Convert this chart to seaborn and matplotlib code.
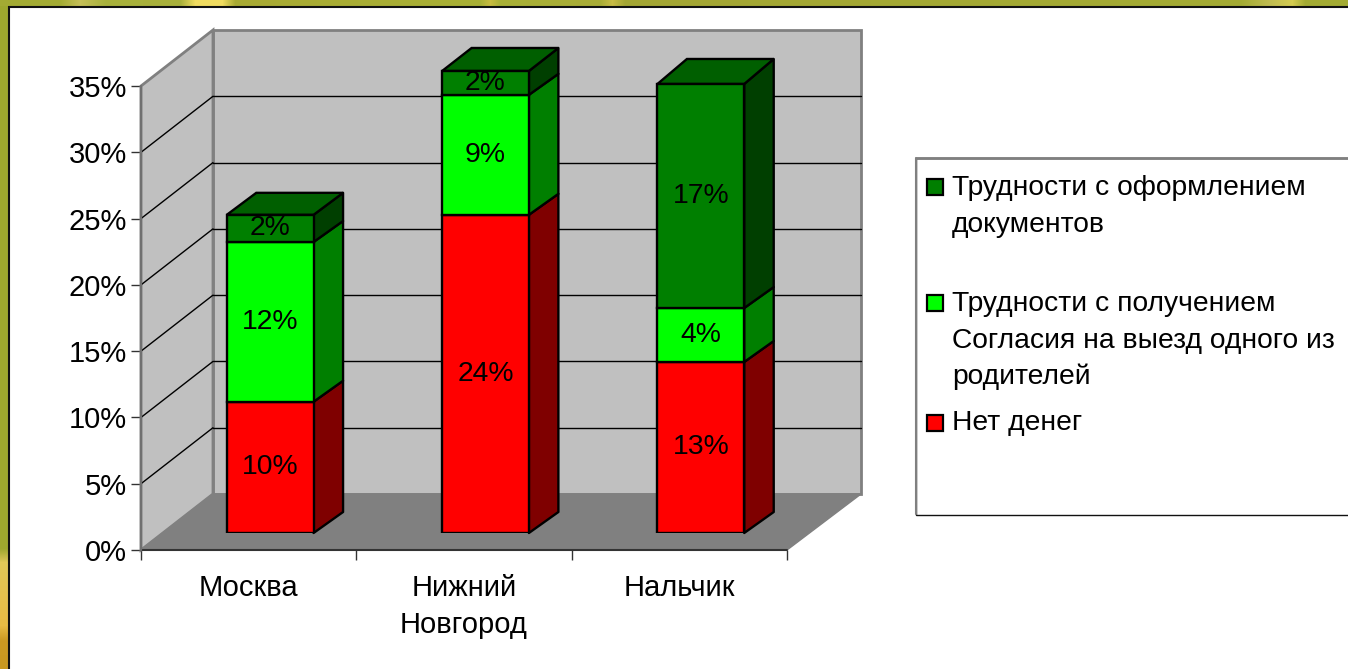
import numpy as np
import pandas as pd
import seaborn as sns
import matplotlib
matplotlib.use("Agg")
import matplotlib.pyplot as plt
from matplotlib.colors import to_rgb
from matplotlib.patches import Polygon, Rectangle
from matplotlib.transforms import Affine2D

# ---- data -------------------------------------------------------------
cities = ["Москва", "Нижний\nНовгород", "Нальчик"]
no_money = [9.9, 24.0, 12.9]
consent = [12.05, 9.05, 4.07]
documents = [2.05, 1.8, 16.9]
series_labels = ["Нет денег",
                 "Трудности с получением\nСогласия на выезд одного из\nродителей",
                 "Трудности с оформлением\nдокументов"]
y_ticks = [0, 5, 10, 15, 20, 25, 30, 35]

# ---- style --------------------------------------------------------------
sns.set_theme(style="white")
plt.rcParams["font.family"] = ["Liberation Sans", "DejaVu Sans"]
W, H = 1348, 669
FS = 21
FS_LABEL = 20.4
FS_LEG = 20.3
front = ["#ff0000", "#00ff00", "#007f00"]
side = ["#7f0000", "#007f00", "#003f00"]
top = ["#7f0000", "#007f00", "#005f00"]


def box(left, top_px, right, bottom_px):
    return [left / W, 1 - bottom_px / H, (right - left) / W, (bottom_px - top_px) / H]


fig = plt.figure(figsize=(W / 100, H / 100), dpi=100)

# ---- slide background: gradient frame with a white panel ----------------
bg = fig.add_axes([0, 0, 1, 1], zorder=0)
ys = np.arange(H)
stops_y = [0, 548, 562, 600, 625, 640, 669]
stops_c = np.array([to_rgb(c) for c in
                    ["#9ea82e", "#9ea82e", "#e0c858", "#e6c04c", "#e8bc44", "#cc9a22", "#c89820"]])
img = np.zeros((H, W, 3))
for i in range(3):
    img[:, :, i] = np.interp(ys, stops_y, stops_c[:, i])[:, None]
xs = np.arange(W)
stops_x = [0, 60, 80, 105, 180, 195, 222, 235, 480, 490, 500, 600, 612, 625, 1240, 1270, 1292, 1305, 1348]
stops_t = np.array([to_rgb(c) for c in
                    ["#a3ab33", "#a3ab33", "#c6c058", "#a8b23c", "#a8b03a", "#f0dc60", "#f0dc60",
                     "#a8aa33", "#a8b035", "#c8bc40", "#a8b035", "#a8ac35", "#c8bc45", "#a3a633",
                     "#a3ab33", "#c0bc50", "#d4cc50", "#a3ab33", "#a3ab33"]])
for i in range(3):
    img[:6, :, i] = np.interp(xs, stops_x, stops_t[:, i])[None, :]
bg.imshow(img, aspect="auto", interpolation="nearest", extent=(0, W, H, 0))
bg.set_xlim(0, W)
bg.set_ylim(H, 0)
bg.axis("off")
bg.add_patch(Rectangle((8.5, 6.5), W, H, fc="white", ec="#111111", lw=1.5))

# ---- 3-D frame axes: front plane of the plot box -----------------------
ax = fig.add_axes(box(141, 86, 787, 550), zorder=1)
ax.set_xlim(0, 3)
ax.set_ylim(0, 35)
ax.patch.set_visible(False)
for s in ax.spines.values():
    s.set_visible(False)
wall = ax.transData + Affine2D().translate(72, 56)
WALL_R = 3.01
ax.add_patch(Polygon([(0, 0), (WALL_R, 0), (WALL_R, 35), (0, 35)], transform=wall,
                     fc="#c0c0c0", ec="#808080", lw=2, clip_on=False, zorder=1))
x0, y0 = ax.transData.transform((0, 0))
x1, y1 = ax.transData.transform((0, 35))
ax.add_patch(Polygon([(x0, y0), (x1, y1), (x1 + 72, y1 + 56), (x0 + 72, y0 + 56)],
                     transform=None, fc="#c0c0c0", ec="#808080", lw=2, clip_on=False, zorder=1))
xr, _ = ax.transData.transform((3, 0))
ax.add_patch(Polygon([(x0, y0), (xr, y0), (xr + 74, y0 + 56), (x0 + 72, y0 + 56)],
                     transform=None, fc="#808080", ec="#808080", lw=1, clip_on=False, zorder=1.5))
for t in y_ticks[1:-1]:
    ax.plot([0, WALL_R], [t, t], transform=wall, color="black", lw=1, clip_on=False, zorder=2)
    xa, ya = ax.transData.transform((0, t))
    ax.plot([xa, xa + 72], [ya, ya + 56], transform=None, color="black", lw=1, clip_on=False, zorder=2)
ax.plot([0, 3], [0, 0], color="#333333", lw=1.5, clip_on=False, zorder=3)
ax.plot([0, 0], [0, 35], color="#707070", lw=1.6, clip_on=False, zorder=3)

ax.set_yticks(y_ticks, [f"{t}%" for t in y_ticks])
ax.set_xticks([0, 1, 2, 3], [])
ax.set_xticks([0.5, 1.5, 2.5], cities, minor=True)
ax.tick_params(axis="both", which="major", direction="out", length=7, width=1, color="#333333",
               labelsize=FS, labelcolor="black", pad=3, left=True, bottom=True)
ax.tick_params(axis="x", which="minor", length=0, labelsize=FS, labelcolor="black", pad=17)
for lab in ax.get_xticklabels(minor=True):
    lab.set_linespacing(1.44)
    lab.set_verticalalignment("top")

# ---- bars: plane of the bar fronts ---------------------------------------
bars = fig.add_axes(box(162.5, 69, 808.5, 533), zorder=2)
bars.patch.set_visible(False)
bars.axis("off")
df = pd.DataFrame({"city": cities, "Нет денег": no_money, "consent": consent, "documents": documents})
bottom = np.zeros(3)
DX, DY = 29.5, 21
ROOF_DY = [22, 23, 25]
labelled = []
for col, f in zip(["Нет денег", "consent", "documents"], front):
    n = len(bars.patches)
    sns.barplot(data=df, x="city", y=col, bottom=bottom, color=f, saturation=1, width=0.403,
                edgecolor="black", linewidth=1.7, ax=bars, zorder=5)
    labelled.append((bars.patches[n:], df[col].values, bottom.copy()))
    bottom = bottom + df[col].values
bars.set_xlim(-0.5, 2.5)
bars.set_ylim(0, 35)

for k, (patches, vals, bots) in enumerate(labelled):
    for i, (p, v, b) in enumerate(zip(patches, vals, bots)):
        xl, yb = bars.transData.transform((p.get_x(), p.get_y()))
        xr2, yt = bars.transData.transform((p.get_x() + p.get_width(), p.get_y() + p.get_height()))
        dy_top = ROOF_DY[i] if k == 2 else DY
        bars.add_patch(Polygon([(xr2, yb), (xr2 + DX, yb + DY), (xr2 + DX, yt + dy_top), (xr2, yt)],
                               transform=None, fc=side[k], ec="black", lw=1.7, clip_on=False,
                               zorder=4, joinstyle="round"))
        bars.text(p.get_x() + p.get_width() / 2, p.get_y() + p.get_height() / 2, f"{v:.0f}%",
                  ha="center", va="center", fontsize=FS_LABEL, color="black", zorder=8)

# roof of each stack
for i, p in enumerate(labelled[2][0]):
    xl, _ = bars.transData.transform((p.get_x(), 0))
    xr2, yt = bars.transData.transform((p.get_x() + p.get_width(), p.get_y() + p.get_height()))
    d = ROOF_DY[i]
    bars.add_patch(Polygon([(xl, yt), (xr2, yt), (xr2 + DX, yt + d), (xl + DX, yt + d)],
                           transform=None, fc=top[2], ec="black", lw=1.7, clip_on=False, zorder=4.5))

# ---- legend --------------------------------------------------------------
leg = fig.add_axes([0, 0, 1, 1], zorder=3)
leg.set_xlim(0, W)
leg.set_ylim(H, 0)
leg.axis("off")
leg.add_patch(Rectangle((916, 157.5), W, 357.5, fc="white", ec="#111111", lw=1))
leg.plot([916, W], [157.5, 157.5], color="#808080", lw=2)
leg.plot([916, 916], [157.5, 514], color="#808080", lw=1.5)
entries = [(series_labels[2], front[2], 187, [195, 231.5]),
           (series_labels[1], front[1], 303, [311, 348, 384]),
           (series_labels[0], front[0], 423, [430])]
for text, color, y, baselines in entries:
    leg.add_patch(Rectangle((927, y - 8), 16, 16, fc=color, ec="black", lw=1.6))
    for line, yy in zip(text.split("\n"), baselines):
        leg.text(952, yy, line, ha="left", va="baseline", fontsize=FS_LEG, color="black")

fig.savefig("out.png", dpi=100)
